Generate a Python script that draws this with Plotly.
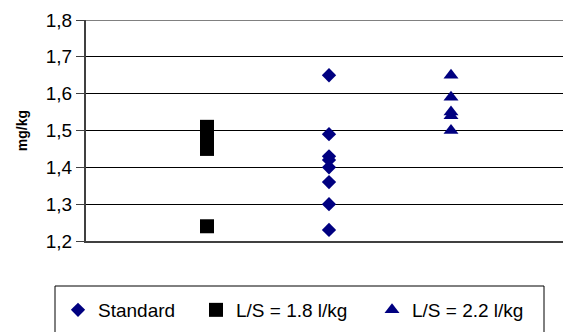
import plotly.graph_objects as go

# data
series_names = ["Standard", "L/S = 1.8 l/kg", "L/S = 2.2 l/kg"]
x_positions = [2, 1, 3]
standard_vals = [1.65, 1.49, 1.43, 1.42, 1.40, 1.36, 1.30, 1.23]
ls18_vals = [1.51, 1.49, 1.47, 1.45, 1.24]
ls22_vals = [1.65, 1.59, 1.55, 1.54, 1.50]
y_ticks = [1.2, 1.3, 1.4, 1.5, 1.6, 1.7, 1.8]

NAVY = "#000080"
FONT = "Arial, Liberation Sans, sans-serif"

L, T, B = 86, 20, 91
PW = 563 - L
PH = 332 - T - B


def px_x(px):
    return (px - L) / PW


def px_y(py):
    return (332 - B - py) / PH


fig = go.Figure()
fig.add_trace(go.Scatter(
    x=[x_positions[0]] * len(standard_vals), y=standard_vals, mode="markers",
    name=series_names[0], legend="legend",
    marker=dict(symbol="diamond", size=11, color=NAVY, line=dict(width=0))))
fig.add_trace(go.Scatter(
    x=[x_positions[1]] * len(ls18_vals), y=ls18_vals, mode="markers",
    name=series_names[1], legend="legend2",
    marker=dict(symbol="square", size=14, color="#000000", line=dict(width=0))))
fig.add_trace(go.Scatter(
    x=[x_positions[2]] * len(ls22_vals), y=ls22_vals, mode="markers",
    name=series_names[2], legend="legend3",
    marker=dict(symbol="triangle-up", size=13, color=NAVY, line=dict(width=0))))

leg_common = dict(y=px_y(310), yanchor="middle",
                  xanchor="left", bgcolor="rgba(0,0,0,0)", borderwidth=0,
                  font=dict(family=FONT, size=19, color="#000000"))

fig.update_layout(
    width=563, height=332,
    margin=dict(l=L, r=0, t=T, b=B, autoexpand=False),
    paper_bgcolor="white", plot_bgcolor="white",
    separators=", ",
    font=dict(family=FONT, size=19, color="#000000"),
    showlegend=True,
    legend=dict(x=px_x(95 - 37), **leg_common),
    legend2=dict(x=px_x(233 - 37), **leg_common),
    legend3=dict(x=px_x(409 - 37), **leg_common),
    xaxis=dict(range=[-(207 - L) / 122 + 1, 1 + (563 - 207) / 122], showgrid=False,
               zeroline=False, showticklabels=False, ticks="", showline=True,
               linecolor="#404040", linewidth=2),
    yaxis=dict(range=[1.2, 1.8], tickvals=y_ticks, tickformat=".1f",
               showgrid=True, gridcolor="#000000", gridwidth=1, zeroline=False,
               showline=True, linecolor="#404040", linewidth=2,
               ticks="outside", ticklen=8, tickcolor="#404040", tickwidth=1,
               tickfont=dict(family=FONT, size=19),
               title=dict(text="<b>mg/kg</b>", font=dict(family=FONT, size=14),
                          standoff=15)),
    shapes=[
        dict(type="line", xref="paper", yref="y", x0=0, x1=1, y0=1.8, y1=1.8,
             line=dict(color="#808080", width=2)),
        dict(type="rect", xref="paper", yref="paper",
             x0=px_x(55), x1=px_x(544),
             y0=px_y(286), y1=px_y(345),
             line=dict(color="#000000", width=1), fillcolor="rgba(0,0,0,0)"),
    ],
)

fig.write_html("out.html", config={"displayModeBar": False},
               post_script="document.body.style.margin='0';")
